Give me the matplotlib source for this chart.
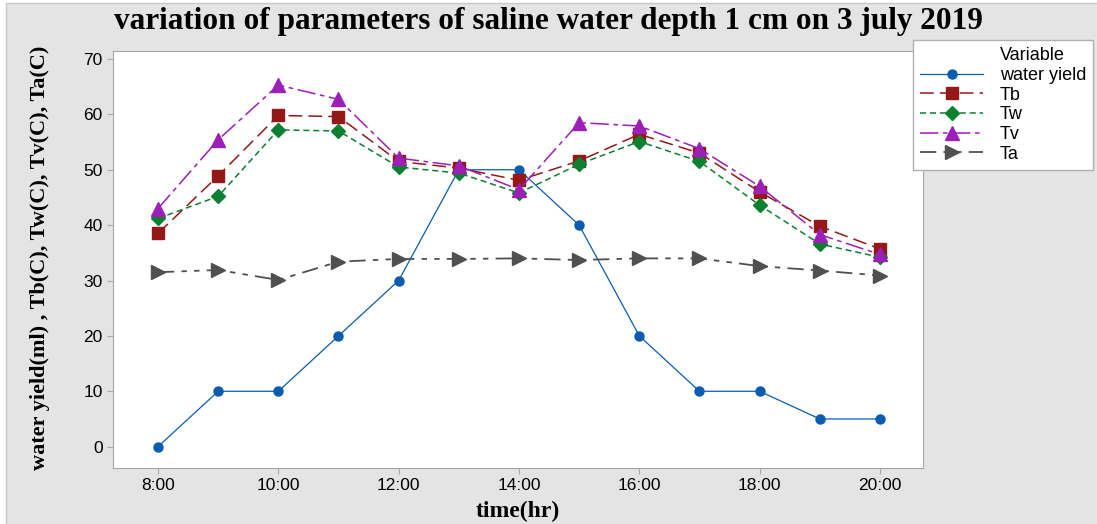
import matplotlib.pyplot as plt
from matplotlib.lines import Line2D
from matplotlib.patches import Rectangle

hours = [8, 9, 10, 11, 12, 13, 14, 15, 16, 17, 18, 19, 20]
tick_hours = [8, 10, 12, 14, 16, 18, 20]
tick_labels = ['8:00', '10:00', '12:00', '14:00', '16:00', '18:00', '20:00']

water_yield = [0, 10, 10, 20, 30, 50, 50, 40, 20, 10, 10, 5, 5]
tb = [38.5, 48.9, 59.8, 59.6, 51.5, 50.3, 48.1, 51.6, 56.4, 53.0, 46.0, 39.8, 35.7]
tw = [41.2, 45.2, 57.2, 57.0, 50.5, 49.4, 45.8, 51.0, 55.1, 51.5, 43.6, 36.6, 34.2]
tv = [43.0, 55.4, 65.3, 62.7, 52.1, 50.7, 46.4, 58.5, 57.9, 53.8, 47.0, 38.3, 34.7]
ta = [31.5, 31.9, 30.1, 33.4, 33.9, 33.9, 34.0, 33.7, 34.0, 34.0, 32.6, 31.8, 30.9]

fig = plt.figure(figsize=(10.97, 5.24), dpi=100)
fig.patch.set_facecolor('white')
# grey panel behind everything
fig.patches.append(Rectangle((6 / 1097, -0.01), 1.0, 1 - 3 / 524 + 0.01, transform=fig.transFigure,
                             facecolor='#e4e4e4', edgecolor='#c8c8c8', lw=1, zorder=-10))

ax = fig.add_axes([113 / 1097, 56 / 524, (923 - 113) / 1097, (468 - 51) / 524])
ax.set_facecolor('white')

ax.plot(hours, water_yield, color='#0a5cb0', lw=0.9, marker='o', ms=6.5, label='water yield')
ax.plot(hours, tb, color='#941818', lw=1.1, dashes=(9, 4), marker='s', ms=8.5, label='Tb')
ax.plot(hours, tw, color='#0a8030', lw=1.1, dashes=(4, 2.5), marker='D', ms=7.5, label='Tw')
ax.plot(hours, tv, color='#9c1fb8', lw=1.1, dashes=(12, 3, 3, 3), marker='^', ms=10, label='Tv')
ax.plot(hours, ta, color='#505050', lw=1.3, dashes=(9, 4, 3, 4, 3, 4), marker='>', ms=10, label='Ta')

ax.set_xlim(7.252, 20.715)
ax.set_ylim(-3.85, 71.44)
ax.set_xticks(tick_hours)
ax.set_xticklabels(tick_labels)
ax.set_yticks(range(0, 80, 10))
for sp in ax.spines.values():
    sp.set_color('#a8a8a8')
ax.tick_params(colors='#a8a8a8', labelcolor='black', length=4, width=0.8,
               labelsize=12.5)
for lab in ax.get_xticklabels() + ax.get_yticklabels():
    lab.set_fontfamily('Liberation Sans')

fig.text(0.5, 1 - 21 / 524, 'variation of parameters of saline water depth 1 cm on 3 july 2019',
         ha='center', va='center', fontsize=22.5, fontweight='bold', family='Liberation Serif')
fig.text(518 / 1097, 1 - 511 / 524, 'time(hr)', ha='center', va='center', fontsize=17,
         fontweight='bold', family='Liberation Serif')
fig.text(40 / 1097, 1 - 258 / 524, 'water yield(ml) , Tb(C), Tw(C), Tv(C), Ta(C)', rotation=90,
         ha='center', va='center', fontsize=16, fontweight='bold', family='Liberation Serif')

handles, labels = ax.get_legend_handles_labels()
blank = Line2D([], [], color='none')
leg = fig.legend([blank] + handles, ['Variable'] + labels, loc='upper left',
                 bbox_to_anchor=(913 / 1097, 1 - 40 / 524), borderaxespad=0,
                 frameon=True, fancybox=False,
                 edgecolor='#b0b0b0', facecolor='white', framealpha=1,
                 handlelength=3.5, borderpad=0.4, labelspacing=0.15, handletextpad=0.9,
                 prop={'family': 'Liberation Sans', 'size': 13})
leg.get_frame().set_linewidth(1)

fig.savefig('out.png', dpi=100, facecolor=fig.get_facecolor())
